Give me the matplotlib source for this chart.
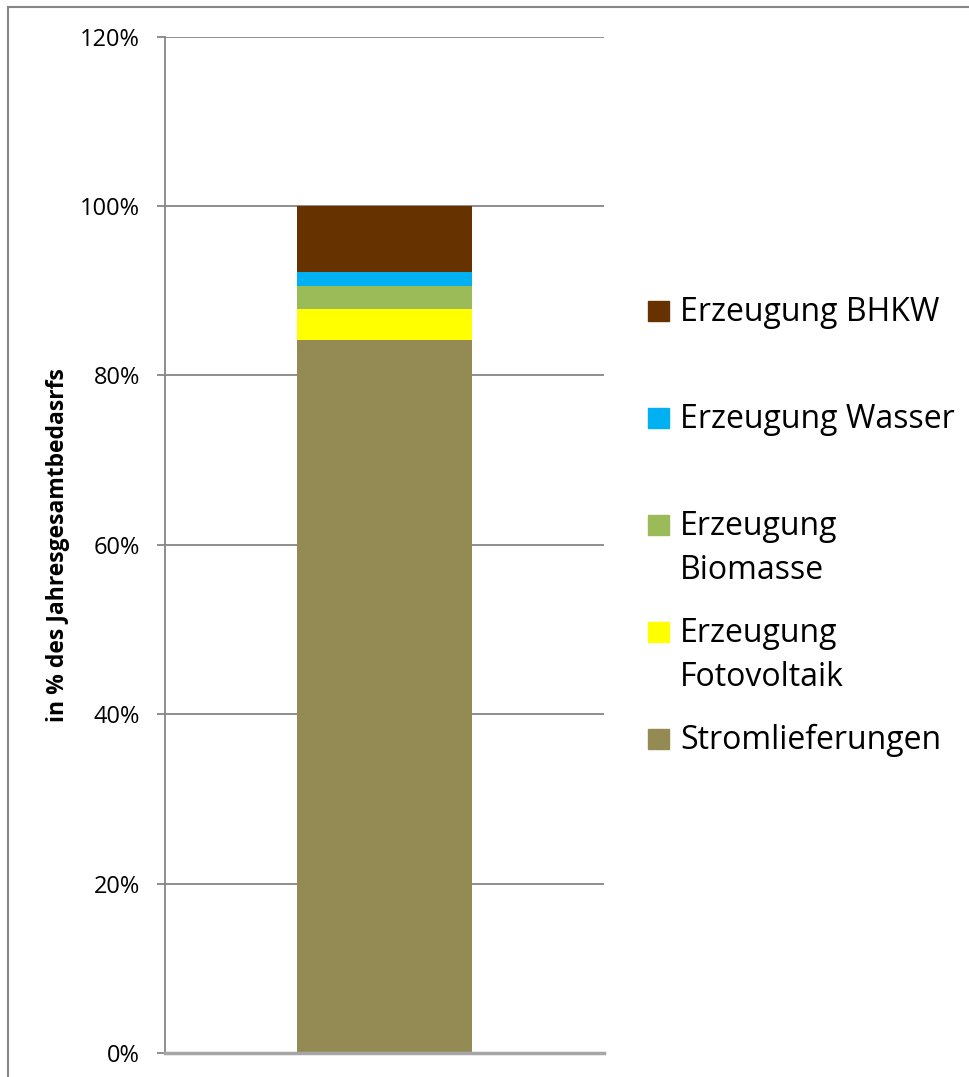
import matplotlib.pyplot as plt
from matplotlib.patches import Rectangle
from matplotlib.lines import Line2D

# stacked shares, bottom to top (percent of annual demand)
labels = ['Stromlieferungen', 'Erzeugung\nFotovoltaik', 'Erzeugung\nBiomasse',
          'Erzeugung Wasser', 'Erzeugung BHKW']
values = [84.2, 3.65, 2.72, 1.65, 7.78]
colors = ['#948A54', '#FFFF00', '#9BBB59', '#00B0F0', '#663300']
yticks = [0, 20, 40, 60, 80, 100, 120]
ytick_labels = ['0%', '20%', '40%', '60%', '80%', '100%', '120%']

W, H = 969, 1077
fig = plt.figure(figsize=(W / 100, H / 100), dpi=100)
ax = fig.add_axes([165 / W, 24 / H, 439 / W, (1053 - 36.5) / H])

bottom = 0
for v, c, lab in zip(values, colors, labels):
    ax.bar(0, v, width=0.4, bottom=bottom, color=c, label=lab, zorder=3)
    bottom += v

ax.set_xlim(-0.5, 0.5)
ax.set_ylim(0, 120)
ax.set_yticks(yticks)
ax.set_yticklabels(ytick_labels, fontfamily='Open Sans', fontsize=17)
ax.set_xticks([])
ax.tick_params(axis='y', length=6, width=1.3, color='#868686', pad=12)
ax.grid(axis='y', color='#868686', linewidth=1.3, zorder=0)
for s in ['top', 'right']:
    ax.spines[s].set_visible(False)
ax.spines['left'].set_color('#868686')
ax.spines['left'].set_linewidth(1.3)
ax.spines['bottom'].set_color('#A6A6A6')
ax.spines['bottom'].set_linewidth(2.5)
ax.spines['bottom'].set_zorder(4)

fig.text(58 / W, 1 - 545 / H, 'in % des Jahresgesamtbedasrfs', rotation=90,
         ha='center', va='center', fontfamily='Open Sans', fontweight='bold',
         fontsize=16.5)

# legend, Excel-like: entries top-aligned at a fixed step, marker on the first line
step = 107
for i, (lab, c) in enumerate(zip(labels[::-1], colors[::-1])):
    base = 321 + step * i
    fig.patches.append(Rectangle((648 / W, 1 - base / H), 21 / W, 20 / H,
                                 transform=fig.transFigure, color=c))
    for k, line in enumerate(lab.split('\n')):
        fig.text(680 / W, 1 - (base + 44 * k) / H, line, ha='left', va='baseline',
                 fontfamily='Open Sans', fontsize=23)

# chart area border (left and top visible)
fig.add_artist(Line2D([8 / W, 8 / W], [0, 1 - 7 / H], transform=fig.transFigure,
                      color='#868686', linewidth=1.5))
fig.add_artist(Line2D([8 / W, 1], [1 - 7 / H, 1 - 7 / H], transform=fig.transFigure,
                      color='#868686', linewidth=1.5))

fig.savefig('out.png', dpi=100)
